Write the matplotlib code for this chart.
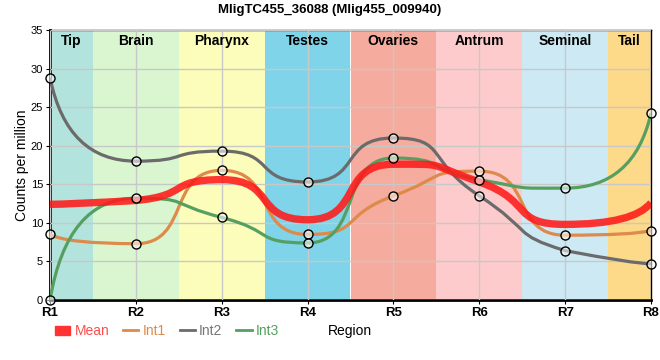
import matplotlib.pyplot as plt
from matplotlib.path import Path
from matplotlib.patches import PathPatch, Patch
from matplotlib.lines import Line2D

plt.rcParams['font.family'] = ['Liberation Sans', 'DejaVu Sans']

regions = ['R1', 'R2', 'R3', 'R4', 'R5', 'R6', 'R7', 'R8']
mean = [12.4, 12.9, 15.6, 10.4, 17.6, 15.3, 9.8, 12.6]
int1 = [8.5, 7.3, 16.8, 8.5, 13.5, 16.7, 8.4, 9.0]
int2 = [28.8, 18.0, 19.3, 15.3, 21.0, 13.5, 6.4, 4.7]
int3 = [0.0, 13.2, 10.7, 7.4, 18.4, 15.6, 14.5, 24.2]

tissues = ['Tip', 'Brain', 'Pharynx', 'Testes', 'Ovaries', 'Antrum', 'Seminal', 'Tail']
band_edges = [1, 1.5, 2.5, 3.5, 4.5, 5.5, 6.5, 7.5, 8]
band_colors = ['#b3e3dd', '#d9f6d0', '#fdfdbb', '#7fd4ea', '#f5ab9d', '#fdcbcb', '#cdeaf4', '#fdd98a']


def smooth_path(xs, ys, a_in=0.64, a_end=0.8):
    # bezier chain through the points, flat at local extremes
    n = len(xs)
    h = [xs[i + 1] - xs[i] for i in range(n - 1)]
    s = [(ys[i + 1] - ys[i]) / h[i] for i in range(n - 1)]
    t = [0.0] * n
    for i in range(1, n - 1):
        s0, s1 = s[i - 1], s[i]
        p = (s0 * h[i] + s1 * h[i - 1]) / (h[i - 1] + h[i])
        sg = (s0 > 0) - (s0 < 0) + (s1 > 0) - (s1 < 0)
        t[i] = sg * min(abs(s0), abs(s1), 0.5 * abs(p)) if sg else 0.0

    def clip(v, a, b):
        return max(min(a, b), min(max(a, b), v))

    verts = [(xs[0], ys[0])]
    codes = [Path.MOVETO]
    # first piece: quadratic
    cy = clip(ys[1] - a_end * h[0] * t[1], ys[0], ys[1])
    verts += [(xs[1] - a_end * h[0], cy), (xs[1], ys[1])]
    codes += [Path.CURVE3] * 2
    for i in range(1, n - 2):
        d = a_in * h[i]
        verts += [(xs[i] + d, ys[i] + d * t[i]),
                  (xs[i + 1] - d, ys[i + 1] - d * t[i + 1]),
                  (xs[i + 1], ys[i + 1])]
        codes += [Path.CURVE4] * 3
    # last piece: quadratic
    cy = clip(ys[-2] + a_end * h[-1] * t[-2], ys[-2], ys[-1])
    verts += [(xs[-2] + a_end * h[-1], cy), (xs[-1], ys[-1])]
    codes += [Path.CURVE3] * 2
    return Path(verts, codes)


x = list(range(1, len(regions) + 1))

fig = plt.figure(figsize=(6.6, 3.6), dpi=100)
ax = fig.add_axes([50 / 660, 1 - 300 / 360, 601 / 660, 270 / 360])

for i, name in enumerate(tissues):
    ax.axvspan(band_edges[i], band_edges[i + 1], color=band_colors[i], lw=0, zorder=0)
    ax.text((band_edges[i] + band_edges[i + 1]) / 2, 34.5, name, ha='center', va='top',
            fontsize=10, fontweight='bold', zorder=5)

ax.set_xlim(1, 8)
ax.set_ylim(0, 35)
ax.set_xticks(x)
ax.set_xticklabels(regions, fontweight='bold', fontsize=9.5)
ax.set_yticks(range(0, 36, 5))
ax.tick_params(axis='y', labelsize=8, length=3, pad=2)
ax.tick_params(axis='x', length=3, pad=2)
ax.grid(True, color='#c8c8c8', lw=1, zorder=1)
ax.set_axisbelow(False)
for sp in ['left', 'bottom']:
    ax.spines[sp].set_linewidth(2)
for sp in ['top', 'right']:
    ax.spines[sp].set_linewidth(1)

series = [(int1, '#dd8a4b'), (int2, '#6b6b6b'), (int3, '#55a060')]
for vals, col in series:
    ax.add_patch(PathPatch(smooth_path(x, vals), fc='none', ec=col, lw=2.3, zorder=3))
ax.add_patch(PathPatch(smooth_path(x, mean), fc='none', ec='#ff1a1a', lw=5.3,
                       alpha=0.88, zorder=4, capstyle='butt'))
for vals, col in series:
    ax.plot(x, vals, ls='none', marker='o', ms=6.5, mfc=(1, 1, 1, 0.55), mec='black',
            mew=1, zorder=6, clip_on=False)

ax.set_ylabel('Counts per million', fontsize=10, labelpad=1)
fig.text(350 / 660, 1 - 331 / 360, 'Region', ha='center', va='center', fontsize=10)
fig.suptitle('MligTC455_36088 (Mlig455_009940)', fontsize=9.5, fontweight='bold',
             x=330 / 660, y=1 - 10 / 360, va='center')

handles = [Patch(color='#ff3333'),
           Line2D([], [], color='#dd8a4b', lw=2),
           Line2D([], [], color='#6b6b6b', lw=2),
           Line2D([], [], color='#55a060', lw=2)]
fig.legend(handles, ['Mean', 'Int1', 'Int2', 'Int3'], loc='center left',
           bbox_to_anchor=(55 / 660, 1 - 331 / 360), ncol=4, frameon=False,
           borderpad=0, borderaxespad=0,
           fontsize=10, handlelength=1.1, handleheight=0.6, handletextpad=0.3,
           columnspacing=1.0, labelcolor=['#ff4d4d', '#dd8a4b', '#777777', '#55a060'])

fig.savefig('out.png', dpi=100)
